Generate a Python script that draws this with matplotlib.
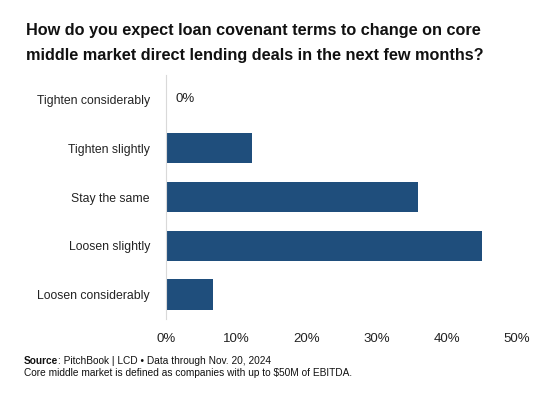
import matplotlib
matplotlib.use("Agg")
import matplotlib.pyplot as plt

categories = ["Tighten considerably", "Tighten slightly", "Stay the same",
              "Loosen slightly", "Loosen considerably"]
values = [0.0, 12.3, 35.9, 45.0, 6.7]
xticks = [0, 10, 20, 30, 40, 50]

plt.rcParams["font.family"] = ["Liberation Sans", "DejaVu Sans"]

fig = plt.figure(figsize=(5.55, 3.96), dpi=100)
ax = fig.add_axes([0.299, 0.1944, 0.6324, 0.6162])

ypos = list(range(len(categories)))
ax.barh(ypos, values, height=0.62, color="#1f4e7c")
ax.set_ylim(len(categories) - 0.5, -0.5)
ax.set_xlim(0, 50)

ax.set_yticks(ypos)
ax.set_yticklabels(categories, fontsize=8.8, color="#222222")
ax.set_xticks(xticks)
ax.set_xticklabels([f"{t}%" for t in xticks], fontsize=9.5, color="#222222")
ax.tick_params(axis="y", length=0, pad=11.5)
ax.tick_params(axis="x", length=0, pad=10)

for s in ["top", "right", "bottom"]:
    ax.spines[s].set_visible(False)
ax.spines["left"].set_color("#d9d9d9")
ax.spines["left"].set_linewidth(0.8)

# only the zero bar gets a data label
for y, v in zip(ypos, values):
    if v == 0:
        ax.text(v + 1.4, y, f"{v:.0f}%", va="center", ha="left",
                fontsize=9.5, color="#222222")

fig.text(0.047, 0.922, "How do you expect loan covenant terms to change on core",
         fontsize=11.7, fontweight="bold", va="center", ha="left", color="#111111")
fig.text(0.047, 0.860, "middle market direct lending deals in the next few months?",
         fontsize=11.7, fontweight="bold", va="center", ha="left", color="#111111")

src = fig.text(0.043, 0.089, "Source", fontsize=7.3, fontweight="bold",
               va="center", ha="left", color="#111111")
fig.canvas.draw()
bb = src.get_window_extent()
x1 = bb.x1 / fig.bbox.width
fig.text(x1, 0.089, ": PitchBook | LCD \u2022 Data through Nov. 20, 2024",
         fontsize=7.3, va="center", ha="left", color="#111111")
fig.text(0.043, 0.059, "Core middle market is defined as companies with up to $50M of EBITDA.",
         fontsize=7.3, va="center", ha="left", color="#111111")

fig.savefig("out.png", dpi=100)
